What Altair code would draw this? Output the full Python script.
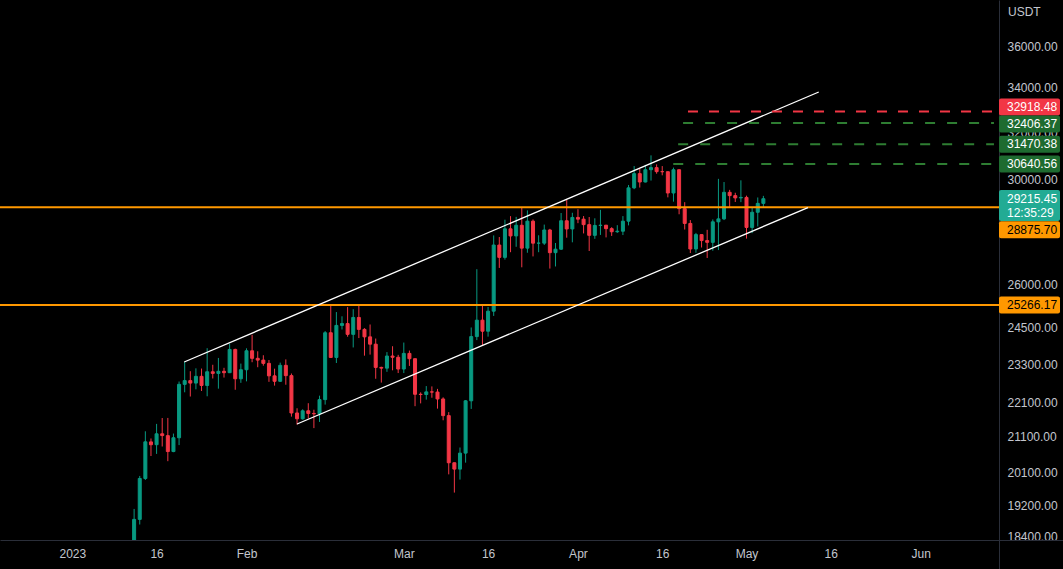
import altair as alt
import pandas as pd

FONT = "Liberation Sans"
UP = "#089981"
DOWN = "#f23645"
ORANGE = "#ff9800"
RED = "#f23645"
GREEN_LINE = "#2e7d32"
GREEN_BOX = "#1e6b30"
TEAL = "#22ab94"
AXIS_TXT = "#c3c6ce"
SEP = "#2a2e39"

# ---- daily candles BTC/USDT, from 2023-01-12 ----
start_date = "2023-01-12"
opens = [17943, 18846, 19930, 20952, 20872, 21185, 21132, 20677, 21071, 22667,
         22783, 22707, 22917, 22632, 23060, 23009, 23075, 23031, 23775, 22840,
         23125, 23732, 23488, 23431, 23327, 22932, 22762, 23264, 22939, 21797,
         21625, 21862, 21783, 21773, 22199, 24324, 23517, 24569, 24631, 24271,
         24838, 24436, 24188, 23947, 23198, 23175, 23562, 23522, 23147, 23647,
         23476, 22362, 22354, 22435, 22429, 22219, 21718, 20363, 20187, 20633,
         22163, 24197, 24746, 24375, 25052, 27423, 26965, 28038, 27767, 28175,
         27307, 28333, 27493, 27494, 27994, 27139, 27268, 28348, 28033, 28478,
         28411, 28199, 27790, 28168, 28177, 28044, 27926, 27947, 28333, 29653,
         30235, 29892, 30399, 30485, 30318, 30315, 29446, 30397, 28823, 28245,
         27276, 27817, 27591, 27525, 28307, 28422, 29473, 29340, 29248, 29268,
         28091, 28680, 29031]
highs = [19117, 19999, 21258, 21050, 21474, 21647, 21650, 21192, 22755, 23371,
         23078, 23169, 23162, 23816, 23282, 23500, 23185, 23960, 23800, 23320,
         23812, 24255, 23715, 23587, 23433, 23158, 23350, 23453, 23005, 21938,
         21906, 22090, 21894, 22319, 24380, 25250, 25022, 24877, 25192, 25121,
         25250, 24477, 24600, 24132, 23220, 23689, 23880, 23600, 24000, 23739,
         23479, 22420, 22614, 22603, 22527, 22268, 21822, 20367, 20792, 22185,
         24500, 26533, 25250, 25196, 27787, 27725, 28390, 28528, 28500, 28868,
         28754, 28400, 27791, 28200, 28037, 27500, 28650, 29184, 28660, 28800,
         28532, 28494, 28444, 28775, 28190, 28100, 28178, 28530, 29770, 30550,
         30430, 30600, 31000, 30620, 30549, 30319, 30486, 30412, 29078, 28374,
         27882, 27820, 28000, 28400, 30020, 29890, 29572, 29455, 29960, 29339,
         28879, 29266, 29330]
lows = [17600, 18714, 19889, 20551, 20611, 20820, 20407, 20659, 20861, 22422,
        22293, 22513, 22462, 22300, 22850, 22534, 22878, 23020, 22500, 22714,
        22760, 23363, 23204, 23253, 22745, 22628, 22745, 22655, 21688, 21451,
        21599, 21630, 21351, 21532, 22048, 23505, 23339, 24433, 24192, 23840,
        24148, 23574, 23608, 22841, 22722, 23059, 23106, 23020, 23020, 23245,
        22000, 22085, 22198, 22256, 21927, 21580, 20042, 19549, 19900, 20366,
        21918, 24080, 23920, 24194, 24890, 26578, 26882, 27156, 27357, 26601,
        27135, 27000, 27156, 27426, 26555, 26631, 27240, 27700, 27525, 28255,
        27862, 27200, 27657, 27805, 27711, 27767, 27883, 27800, 28170, 29600,
        29666, 29874, 29950, 30233, 30166, 29271, 29100, 28601, 28011, 27125,
        27134, 27331, 26942, 27210, 27235, 28375, 28880, 29086, 29080, 27666,
        27873, 28130, 28890]
closes = [18846, 19930, 20954, 20871, 21185, 21134, 20677, 21071, 22667, 22783,
          22707, 22917, 22632, 23060, 23009, 23075, 23031, 23775, 22840, 23125,
          23732, 23488, 23431, 23327, 22932, 22762, 23264, 22939, 21797, 21625,
          21862, 21783, 21773, 22199, 24324, 23517, 24569, 24631, 24271, 24838,
          24436, 24188, 23947, 23198, 23175, 23562, 23522, 23147, 23647, 23476,
          22362, 22354, 22435, 22429, 22219, 21718, 20363, 20187, 20633, 22163,
          24197, 24746, 24375, 25052, 27423, 26965, 28038, 27767, 28175, 27307,
          28333, 27493, 27494, 27994, 27139, 27268, 28348, 28033, 28478, 28411,
          28199, 27790, 28168, 28177, 28044, 27926, 27947, 28333, 29653, 30235,
          29892, 30399, 30485, 30318, 30315, 29446, 30397, 28823, 28245, 27276,
          27817, 27591, 27525, 28307, 28422, 29473, 29340, 29248, 29268, 28091,
          28680, 29031, 29215.45]

# ---- drawings ----
channel_names = ["upper", "upper", "lower", "lower"]
channel_dates = ["2023-01-20T21:50:00Z", "2023-05-13T20:40:00Z",
                 "2023-02-10T00:00:00Z", "2023-05-11T22:20:00Z"]
channel_prices = [23371, 33806, 21471, 28864]

support_levels = [28875.70, 25266.17]

target_red_price = [32918.48]
target_red_start = ["2023-04-20T14:00:00Z"]
target_green_prices = [32406.37, 31470.38, 30640.56]
target_green_starts = ["2023-04-19T17:00:00Z", "2023-04-18T20:00:00Z", "2023-04-17T23:00:00Z"]
target_end = "2023-06-14T01:00:00Z"

last_price = 29215.45
countdown = "12:35:29"

y_ticks = [18400, 19200, 20100, 21100, 22100, 23300, 24500, 26000, 28000,
           30000, 32000, 34000, 36000]
x_tick_dates = [(2023, 1, 1), (2023, 1, 16), (2023, 2, 1), (2023, 3, 1), (2023, 3, 16),
                (2023, 4, 1), (2023, 4, 16), (2023, 5, 1), (2023, 5, 16), (2023, 6, 1)]

# ---- frames ----
dates = pd.date_range(start_date, periods=len(opens), freq="D")
candles = pd.DataFrame({
    "date": dates.strftime("%Y-%m-%dT00:00:00Z"),
    "open": opens, "high": highs, "low": lows, "close": closes,
})
candles["dir"] = ["up" if c >= o else "down" for o, c in zip(opens, closes)]

channel_df = pd.DataFrame({"ch": channel_names, "date": channel_dates, "price": channel_prices})
support_df = pd.DataFrame({"price": support_levels})
red_df = pd.DataFrame({"price": target_red_price, "start": target_red_start, "end": [target_end]})
green_df = pd.DataFrame({"price": target_green_prices, "start": target_green_starts,
                         "end": [target_end] * len(target_green_prices)})

# ---- scales / axes ----
yscale = alt.Scale(type="log", domain=[18322, 38337], nice=False, zero=False)
yaxis = alt.Axis(orient="right", values=y_ticks, format=".2f", labelAlign="left",
                 labelBaseline="middle", labelPadding=8, ticks=False, grid=False,
                 domainColor=SEP, domainWidth=1, labelColor=AXIS_TXT, labelFont=FONT,
                 labelFontSize=12, labelOverlap=False, title=None)
xscale = alt.Scale(type="utc", domain=[
    alt.DateTime(year=2022, month=12, date=20, hours=0, minutes=26, utc=True),
    alt.DateTime(year=2023, month=6, date=14, hours=1, minutes=12, utc=True)])
xaxis = alt.Axis(values=[alt.DateTime(year=a, month=b, date=c, utc=True) for a, b, c in x_tick_dates],
                 labelExpr=("utcmonth(datum.value) == 0 && utcdate(datum.value) == 1 ? "
                            "utcFormat(datum.value, '%Y') : (utcdate(datum.value) == 1 ? "
                            "utcFormat(datum.value, '%b') : utcFormat(datum.value, '%d'))"),
                 ticks=False, grid=False, domainColor=SEP, domainWidth=1,
                 labelColor=AXIS_TXT, labelFont=FONT, labelFontSize=12, labelPadding=8,
                 labelOverlap=False, labelFlush=False, title=None)


def Y(field):
    return alt.Y(field, type="quantitative", scale=yscale, axis=yaxis, title=None)


def X(field):
    return alt.X(field, type="temporal", scale=xscale, axis=xaxis, title=None)


color = alt.Color("dir:N", scale=alt.Scale(domain=["up", "down"], range=[UP, DOWN]), legend=None)

wicks = alt.Chart(candles).mark_rule(strokeWidth=1, clip=True).encode(
    x=X("date"), y=Y("low"), y2="high:Q", color=color)
bodies = alt.Chart(candles).mark_bar(size=3, strokeWidth=1, clip=True).encode(
    x=X("date"), y=Y("open"), y2="close:Q", color=color, stroke=color)

supports = alt.Chart(support_df).mark_rule(color=ORANGE, strokeWidth=2).encode(y=Y("price"))

channel = alt.Chart(channel_df).mark_line(color="#ffffff", strokeWidth=1.3).encode(
    x=X("date"), y=Y("price"), detail="ch:N")

red_lines = alt.Chart(red_df).mark_rule(color=RED, strokeWidth=2, strokeDash=[10, 11]).encode(
    x=X("start"), x2="end:T", y=Y("price"))
green_lines = alt.Chart(green_df).mark_rule(color=GREEN_LINE, strokeWidth=2, strokeDash=[10, 12]).encode(
    x=X("start"), x2="end:T", y=Y("price"))


def tag(price, texts, bg, fg, top, bottom, text_dys):
    d = pd.DataFrame({"price": [price]})
    box = alt.Chart(d).mark_rect(color=bg, yOffset=top, y2Offset=bottom, cornerRadius=2).encode(
        y=Y("price"), y2="price:Q", x=alt.value(999), x2=alt.value(1060))
    layers = [box]
    for t, dy in zip(texts, text_dys):
        td = pd.DataFrame({"price": [price], "label": [t]})
        layers.append(alt.Chart(td).mark_text(
            color=fg, align="left", baseline="middle", dy=dy, font=FONT, fontSize=12).encode(
            y=Y("price"), x=alt.value(1007), text="label:N"))
    return layers


tags = []
tags += tag(target_red_price[0], [f"{target_red_price[0]:.2f}"], RED, "#ffffff", -13, 4, [-4.5])
tags += tag(target_green_prices[0], [f"{target_green_prices[0]:.2f}"], GREEN_BOX, "#ffffff", -7.5, 9.5, [1])
tags += tag(target_green_prices[1], [f"{target_green_prices[1]:.2f}"], GREEN_BOX, "#ffffff", -8.5, 8.5, [0])
tags += tag(target_green_prices[2], [f"{target_green_prices[2]:.2f}"], GREEN_BOX, "#ffffff", -8.5, 8.5, [0])
tags += tag(last_price, [f"{last_price:.2f}", countdown], TEAL, "#ffffff", -8.7, 22.3, [0.5, 14])
tags += tag(support_levels[0], [f"{support_levels[0]:.2f}"], ORANGE, "#000000", 14, 31, [22.7])
tags += tag(support_levels[1], [f"{support_levels[1]:.2f}"], ORANGE, "#000000", -8.5, 8.5, [0])

unit_df = pd.DataFrame({"t": ["USDT"]})
usdt = alt.Chart(unit_df).mark_text(color=AXIS_TXT, align="left", baseline="middle",
                                     font=FONT, fontSize=12).encode(
    text="t:N", x=alt.value(1008), y=alt.value(12))
sep_v = alt.Chart(unit_df).mark_rule(color=SEP, strokeWidth=1).encode(
    x=alt.value(999.5), y=alt.value(540), y2=alt.value(569))
sep_h = alt.Chart(unit_df).mark_rule(color=SEP, strokeWidth=1).encode(
    x=alt.value(999), x2=alt.value(1063), y=alt.value(540.5))

chart = alt.layer(
    wicks, bodies, supports, channel, red_lines, green_lines, *tags, usdt, sep_v, sep_h
).properties(
    width=999, height=540, background="#000000",
    padding={"left": 0, "top": 0, "right": 64, "bottom": 29},
    autosize=alt.AutoSizeParams(type="none"),
).configure_view(stroke=None)

chart.save("out.html", embed_options={"renderer": "svg", "actions": False})
